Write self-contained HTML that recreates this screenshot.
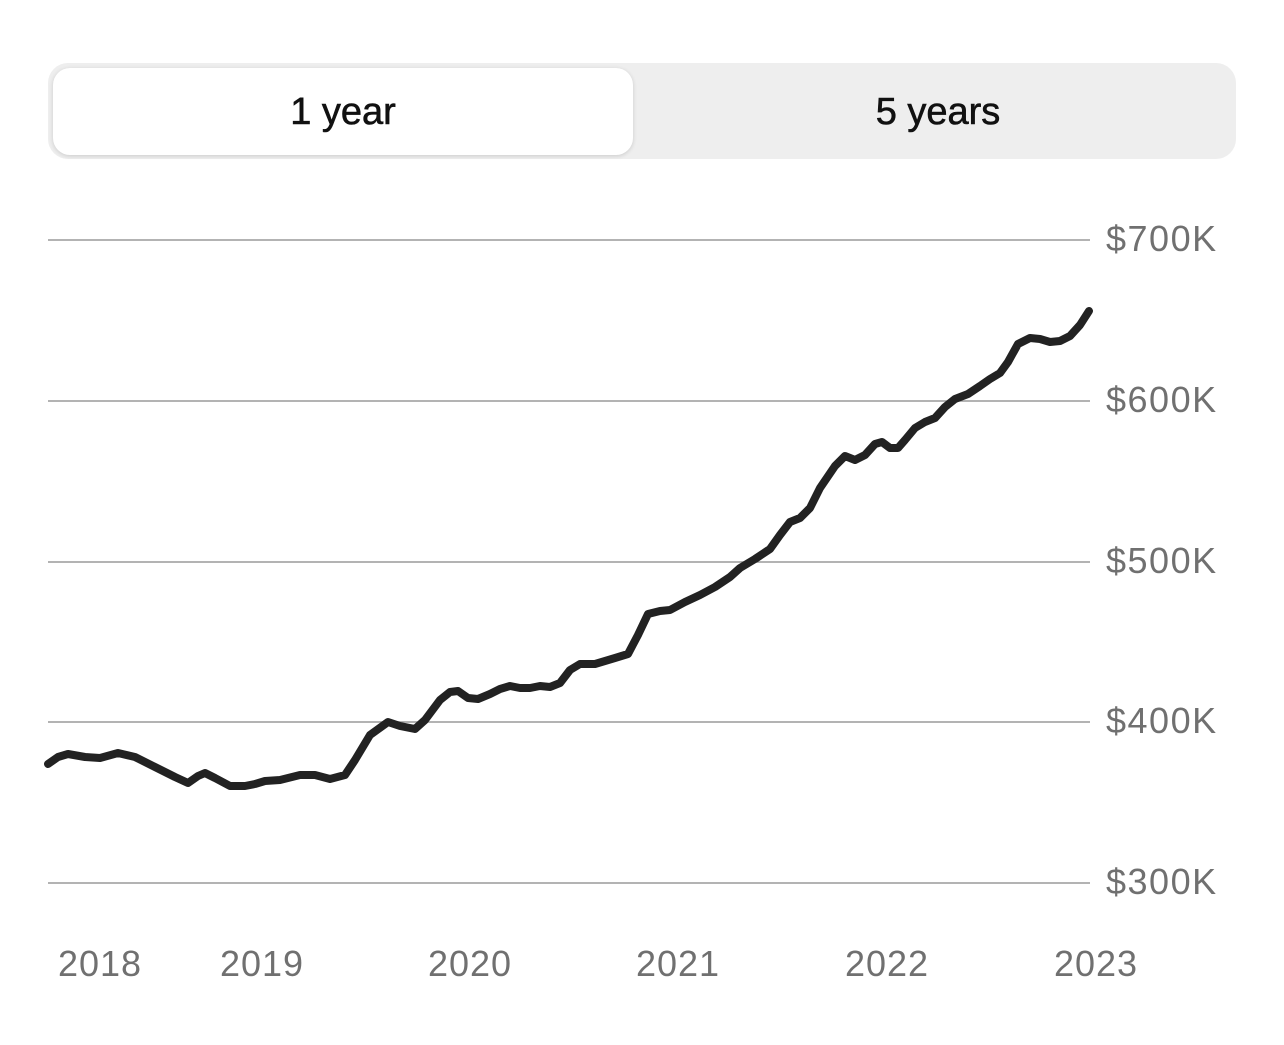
<!DOCTYPE html>
<html><head><meta charset="utf-8"><style>
html,body{margin:0;padding:0;background:#fff;width:1284px;height:1045px;overflow:hidden;font-family:"Liberation Sans",sans-serif}
.seg{position:absolute;left:48px;top:63px;width:1188px;height:96px;background:#eeeeee;border-radius:20px}
.pill{position:absolute;left:53px;top:68px;width:580px;height:87px;background:#fff;border-radius:17px;box-shadow:0 1px 4px rgba(0,0,0,0.15)}
.t{position:absolute;font-size:38px;color:#111;top:91px;text-align:center;-webkit-text-stroke:0.6px #111}
</style></head><body>
<div class="seg"></div><div class="pill"></div>
<div class="t" style="left:53px;width:580px">1 year</div>
<div class="t" style="left:640px;width:596px">5 years</div>
<svg width="1284" height="1045" style="position:absolute;left:0;top:0">
<g stroke="#9a9a9a" stroke-width="1.5">
<line x1="48" y1="240" x2="1090" y2="240"/><line x1="48" y1="401" x2="1090" y2="401"/><line x1="48" y1="562" x2="1090" y2="562"/><line x1="48" y1="722" x2="1090" y2="722"/><line x1="48" y1="883" x2="1090" y2="883"/>
</g>
<g font-family="Liberation Sans, sans-serif" font-size="36" fill="#707070" letter-spacing="1.5">
<text x="1106" y="251">$700K</text><text x="1106" y="412">$600K</text><text x="1106" y="573">$500K</text><text x="1106" y="733">$400K</text><text x="1106" y="894">$300K</text>
</g>
<g font-family="Liberation Sans, sans-serif" font-size="36" fill="#707070" letter-spacing="1">
<text x="100" y="976" text-anchor="middle">2018</text><text x="262" y="976" text-anchor="middle">2019</text><text x="470" y="976" text-anchor="middle">2020</text><text x="678" y="976" text-anchor="middle">2021</text><text x="887" y="976" text-anchor="middle">2022</text><text x="1096" y="976" text-anchor="middle">2023</text>
</g>
<polyline fill="none" stroke="#222" stroke-width="8" stroke-linejoin="round" stroke-linecap="round" points="48,764 58,757 68,754 85,757 100,758 118,753 135,757 155,767 175,777 188,783 198,776 205,773 215,778 230,786 245,786 255,784 265,781 280,780 300,775 315,775 330,779 345,775 355,760 370,735 388,722 400,726 415,729 425,720 440,700 450,692 458,691 468,698 478,699 490,694 500,689 510,686 520,688 530,688 540,686 550,687 560,683 570,670 580,664 595,664 605,661 615,658 628,654 638,635 648,614 660,611 670,610 685,602 700,595 715,587 730,577 740,568 755,559 770,549 780,535 790,522 800,518 810,508 820,488 835,466 845,456 855,460 865,455 875,444 882,442 890,448 898,448 905,440 915,428 925,422 935,418 945,407 955,399 968,394 980,386 990,379 1000,373 1008,362 1018,344 1030,338 1040,339 1050,342 1060,341 1070,336 1080,325 1089,311"/>
</svg>
</body></html>
